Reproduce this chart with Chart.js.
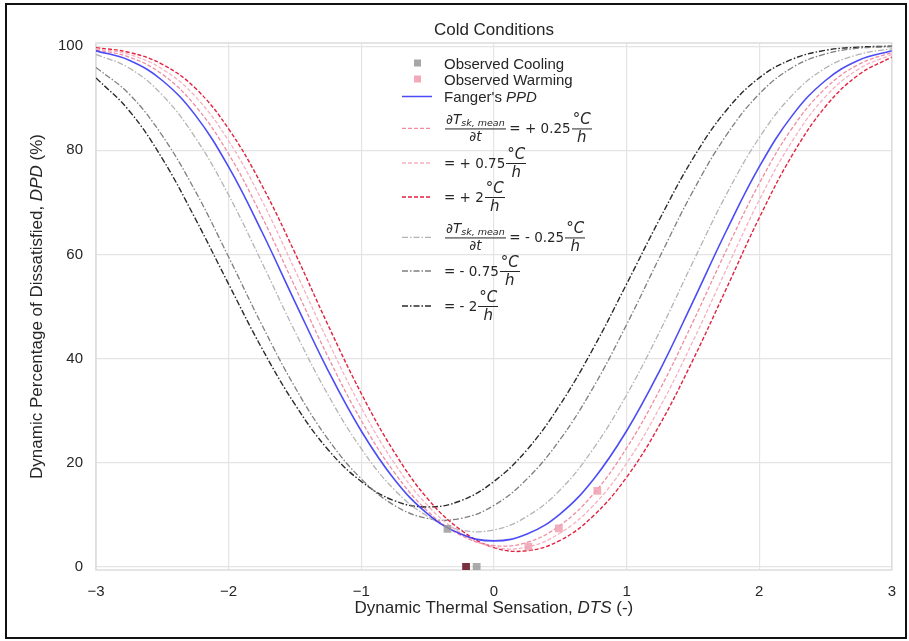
<!DOCTYPE html>
<html>
<head>
<meta charset="utf-8">
<script src="https://cdn.jsdelivr.net/npm/chart.js@4.4.1/dist/chart.umd.min.js"></script>
<style>
  html, body { margin: 0; padding: 0; background: #fff; }
  #wrap { position: relative; width: 909px; height: 641px; }
  #frame { position: absolute; left: 5px; top: 3px; width: 898px; height: 632px; border: 2px solid #111; pointer-events: none; }
  #legend .row { position: absolute; left: 402px; display: flex; align-items: center; transform: translateY(-50%);
    font: 15px "Liberation Sans", Arial, sans-serif; color: #262626; white-space: nowrap; }
  #legend .key { width: 30px; height: 10px; margin-right: 12px; display: flex; align-items: center; justify-content: center; }
  #legend .sq { width: 7px; height: 7px; }
  #legend .math { display: inline-flex; align-items: center; font-family: "DejaVu Sans", sans-serif; font-size: 13.5px; }
  #legend .frac { display: inline-flex; flex-direction: column; align-items: center; margin: 0 1px; }
  #legend .frac .n { border-bottom: 1px solid #262626; padding: 0 1px; line-height: 1.1; }
  #legend .frac .d { line-height: 1.1; }
  #legend .big { font-size: 15px; }
  #legend sub { font-size: 9.5px; font-style: italic; vertical-align: -2px; }
</style>
</head>
<body>
<div id="wrap">
  <canvas id="chart" width="909" height="641"></canvas>
  <div id="legend"></div>
  <div id="frame"></div>
</div>
<script>
// DTS grid the curves were read at
const dts = [-3, -2.75, -2.5, -2.25, -2, -1.75, -1.5, -1.25, -1, -0.75, -0.5, -0.25, 0,
             0.25, 0.5, 0.75, 1, 1.25, 1.5, 1.75, 2, 2.25, 2.5, 2.75, 3];

const fangerPPD = [99.1, 97.3, 93.4, 86.7, 76.8, 64.4, 50.9, 37.7, 26.1, 16.8, 10.2, 6.3, 5.0,
                   6.3, 10.2, 16.8, 26.1, 37.7, 50.9, 64.4, 76.8, 86.7, 93.4, 97.3, 99.1];
const dpdWarm025 = [99.3, 97.9, 94.6, 88.5, 79.3, 67.3, 53.8, 40.3, 28.1, 18.1, 10.7, 6.1, 4.1,
                    4.7, 8.0, 14.0, 22.8, 34.0, 47.0, 60.7, 73.6, 84.3, 91.9, 96.5, 98.8];
const dpdWarm075 = [99.5, 98.4, 95.6, 90.3, 81.8, 70.4, 57.0, 43.3, 30.6, 19.9, 11.8, 6.5, 3.8,
                    3.8, 6.5, 11.8, 19.9, 30.6, 43.3, 57.0, 70.4, 81.8, 90.3, 95.6, 98.4];
const dpdWarm2 = [99.7, 98.8, 96.5, 91.9, 84.1, 73.3, 60.3, 46.4, 33.3, 22.0, 13.1, 7.1, 3.7,
                  3.1, 5.1, 9.8, 17.2, 27.3, 39.7, 53.3, 67.0, 79.1, 88.4, 94.5, 97.9];
const dpdCool025 = [98.4, 95.8, 90.6, 82.4, 71.4, 58.5, 45.2, 33.0, 22.7, 14.8, 9.7, 7.1, 7.1,
                    9.7, 14.8, 22.7, 33.0, 45.2, 58.5, 71.4, 82.4, 90.6, 95.8, 98.4, 99.5];
const dpdCool075 = [95.9, 90.8, 82.8, 72.1, 59.5, 46.5, 34.5, 24.5, 16.9, 11.8, 9.3, 9.3, 11.8,
                    16.9, 24.5, 34.5, 46.5, 59.5, 72.1, 82.8, 90.8, 95.9, 98.5, 99.6, 99.9];
const dpdCool2 = [93.9, 87.6, 78.4, 66.8, 54.3, 42.0, 31.2, 22.5, 16.4, 12.7, 11.5, 12.7, 16.4,
                  22.5, 31.2, 42.0, 54.3, 66.8, 78.4, 87.6, 93.9, 97.5, 99.2, 99.8, 100.0];

// observed points
const coolObsX = [-0.35, -0.13];
const coolObsY = [7.3, 0];
const warmObsX = [0.26, 0.49, 0.78, -0.21];
const warmObsY = [3.9, 7.4, 14.6, 0];

const xTicks = [-3, -2, -1, 0, 1, 2, 3];
const yTicks = [0, 20, 40, 60, 80, 100];

const FONT = '"Liberation Sans", Arial, sans-serif';
const TEXT = '#262626';

const pts = (xs, ys) => xs.map((x, i) => ({ x: x, y: ys[i] }));

const curves = [
    { key: 'ppd', data: fangerPPD, color: 'rgba(45,45,245,0.85)', dash: [], width: 1.6 },
    { key: 'w025', data: dpdWarm025, color: '#f08ca2', dash: [4, 2], width: 1.3 },
    { key: 'w075', data: dpdWarm075, color: '#f6b0bf', dash: [4, 2], width: 1.3 },
    { key: 'w2', data: dpdWarm2, color: '#e2223f', dash: [4, 2], width: 1.4 },
    { key: 'c025', data: dpdCool025, color: '#b4b4b4', dash: [6, 2, 1.5, 2], width: 1.3 },
    { key: 'c075', data: dpdCool075, color: '#7e7e7e', dash: [6, 2, 1.5, 2], width: 1.3 },
    { key: 'c2', data: dpdCool2, color: '#2a2a2a', dash: [6, 2, 1.5, 2], width: 1.4 }
];

const datasets = [
    {
        label: 'Observed Cooling',
        data: pts(coolObsX, coolObsY),
        pointStyle: 'rect',
        pointRadius: 5.5,
        backgroundColor: 'rgba(150,150,150,0.8)',
        borderWidth: 0,
        showLine: false
    },
    {
        label: 'Observed Warming',
        data: pts(warmObsX, warmObsY),
        pointStyle: 'rect',
        pointRadius: 5.5,
        backgroundColor: ['rgba(240,160,178,0.85)', 'rgba(240,160,178,0.85)', 'rgba(240,160,178,0.85)', '#7a2f3e'],
        borderWidth: 0,
        showLine: false
    },
    ...curves.map(c => ({
        label: c.key,
        data: pts(dts, c.data),
        borderColor: c.color,
        borderDash: c.dash,
        borderWidth: c.width,
        pointRadius: 0,
        showLine: true,
        fill: false,
        tension: 0.4
    }))
];

function drawRuns(ctx, runs, cx, cy) {
    let total = 0;
    runs.forEach(r => { ctx.font = r.font; total += ctx.measureText(r.text).width; });
    let x = cx - total / 2;
    ctx.textBaseline = 'middle';
    ctx.textAlign = 'left';
    runs.forEach(r => {
        ctx.font = r.font;
        ctx.fillText(r.text, x, cy);
        x += ctx.measureText(r.text).width;
    });
}

const axisDecor = {
    id: 'axisDecor',
    beforeDatasetsDraw(chart) {
        const { ctx, chartArea: a } = chart;
        ctx.save();
        ctx.strokeStyle = '#dcdcdc';
        ctx.lineWidth = 1.5;
        ctx.strokeRect(a.left, a.top, a.right - a.left, a.bottom - a.top);
        ctx.restore();
    },
    afterDraw(chart) {
        const { ctx, chartArea: a } = chart;
        const norm = '17px ' + FONT, ital = 'italic 17px ' + FONT;
        const cx = (a.left + a.right) / 2;
        ctx.save();
        ctx.fillStyle = TEXT;
        // title
        drawRuns(ctx, [{ text: 'Cold Conditions', font: norm }], cx, 30);
        drawRuns(ctx, [
            { text: 'Dynamic Thermal Sensation, ', font: norm },
            { text: 'DTS', font: ital },
            { text: ' (-)', font: norm }
        ], cx, 608);
        ctx.translate(37, (a.top + a.bottom) / 2);
        ctx.rotate(-Math.PI / 2);
        drawRuns(ctx, [
            { text: 'Dynamic Percentage of Dissatisfied, ', font: norm },
            { text: 'DPD', font: ital },
            { text: ' (%)', font: norm }
        ], 0, 0);
        ctx.restore();
    }
};

new Chart(document.getElementById('chart'), {
    type: 'scatter',
    data: { datasets },
    options: {
        responsive: false,
        animation: false,
        devicePixelRatio: 1,
        layout: { padding: { top: 43, left: 6, right: 13, bottom: 0 } },
        plugins: {
            legend: { display: false },
            tooltip: { enabled: false },
            title: { display: false }
        },
        scales: {
            x: {
                type: 'linear',
                min: -3,
                max: 3,
                afterBuildTicks: (ax) => { ax.ticks = xTicks.map(v => ({ value: v })); },
                afterFit: (s) => { s.height = 71; },
                grid: { color: '#e4e4e4', lineWidth: 1.2, drawTicks: false, tickLength: 0 },
                border: { display: false },
                ticks: {
                    color: TEXT,
                    padding: 13,
                    maxRotation: 0,
                    font: { family: FONT, size: 15 },
                    callback: (v) => v < 0 ? '\u2212' + Math.abs(v) : String(v)
                }
            },
            y: {
                min: -0.6,
                max: 100.6,
                afterBuildTicks: (ax) => { ax.ticks = yTicks.map(v => ({ value: v })); },
                afterFit: (s) => { s.width = 90; },
                grid: { color: '#e4e4e4', lineWidth: 1.2, drawTicks: false, tickLength: 0 },
                border: { display: false },
                ticks: {
                    color: TEXT,
                    padding: 13,
                    font: { family: FONT, size: 15 }
                }
            }
        }
    },
    plugins: [axisDecor]
});

// legend, written as html so the fractions can be set
const style = Object.fromEntries(curves.map(c => [c.key, c]));
function lineKey(c) {
    return `<span class="key"><svg width="30" height="10"><line x1="0" y1="5" x2="30" y2="5" stroke="${c.color}"
      stroke-width="${c.width}" stroke-dasharray="${c.dash.length ? c.dash.join(',') : 'none'}"/></svg></span>`;
}
const unitFrac = '<span class="frac big"><span class="n">°<i>C</i></span><span class="d"><i>h</i></span></span>';
const dFrac = '<span class="frac"><span class="n">∂<i>T</i><sub>sk, mean</sub></span><span class="d">∂<i>t</i></span></span>';
const rows = [
    { y: 63, key: '<span class="key"><span class="sq" style="background:#a6a6a6"></span></span>', html: 'Observed Cooling' },
    { y: 79, key: '<span class="key"><span class="sq" style="background:#f2aabb"></span></span>', html: 'Observed Warming' },
    { y: 96, key: lineKey(style.ppd), html: 'Fanger\'s <i>PPD</i>' },
    { y: 128, key: lineKey(style.w025), html: `<span class="math">${dFrac}&thinsp;= + 0.25${unitFrac}</span>` },
    { y: 163, key: lineKey(style.w075), html: `<span class="math">= + 0.75${unitFrac}</span>` },
    { y: 197, key: lineKey(style.w2), html: `<span class="math">= + 2${unitFrac}</span>` },
    { y: 237, key: lineKey(style.c025), html: `<span class="math">${dFrac}&thinsp;= - 0.25${unitFrac}</span>` },
    { y: 271, key: lineKey(style.c075), html: `<span class="math">= - 0.75${unitFrac}</span>` },
    { y: 306, key: lineKey(style.c2), html: `<span class="math">= - 2${unitFrac}</span>` }
];
document.getElementById('legend').innerHTML = rows.map(r =>
    `<div class="row" style="top:${r.y}px">${r.key}<span>${r.html}</span></div>`).join('');
</script>
</body>
</html>
